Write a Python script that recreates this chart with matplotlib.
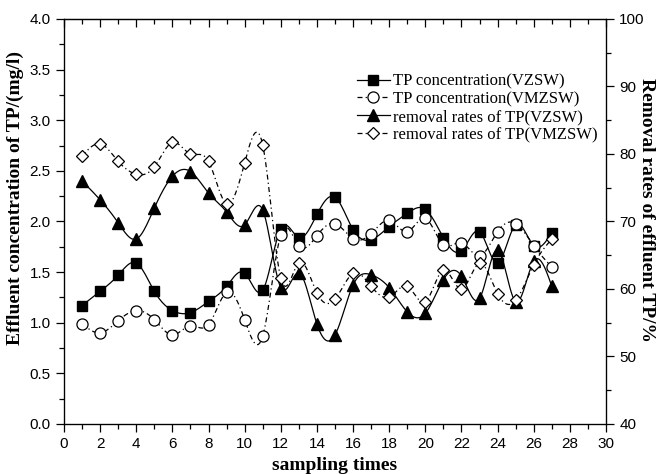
import numpy as np
import matplotlib
matplotlib.use('Agg')
import matplotlib.pyplot as plt
from matplotlib.ticker import MultipleLocator

# sampling times and readings
times = list(range(1, 28))

tp_vzsw = [1.17, 1.31, 1.47, 1.59, 1.31, 1.12, 1.10, 1.21, 1.36, 1.49,
           1.32, 1.93, 1.84, 2.07, 2.24, 1.92, 1.82, 1.95, 2.08, 2.12,
           1.84, 1.71, 1.90, 1.59, 1.97, 1.76, 1.89]
tp_vmzsw = [0.99, 0.90, 1.02, 1.12, 1.03, 0.88, 0.97, 0.98, 1.30, 1.03,
            0.87, 1.87, 1.76, 1.86, 1.98, 1.83, 1.88, 2.01, 1.90, 2.03,
            1.77, 1.79, 1.66, 1.90, 1.98, 1.76, 1.55]
rr_vzsw = [76.0, 73.2, 69.8, 67.4, 72.0, 76.7, 77.4, 74.2, 71.4, 69.5,
           71.7, 60.2, 62.4, 54.8, 53.2, 60.6, 62.1, 60.2, 56.6, 56.4,
           61.4, 61.9, 58.6, 65.8, 58.1, 64.1, 60.4]
rr_vmzsw = [79.7, 81.5, 78.9, 77.0, 78.1, 81.7, 80.0, 78.9, 72.6, 78.7,
            81.3, 61.6, 63.9, 59.4, 58.5, 62.3, 60.4, 58.8, 60.4, 58.1,
            62.8, 60.0, 63.8, 59.3, 58.3, 63.6, 67.4]

labels = ['TP concentration(VZSW)', 'TP concentration(VMZSW)',
          'removal rates of TP(VZSW)', 'removal rates of TP(VMZSW)']


def spline(x, y, n=12):
    # natural cubic spline through the points
    x = np.asarray(x, float)
    y = np.asarray(y, float)
    N = len(x)
    h = np.diff(x)
    A = np.zeros((N, N))
    b = np.zeros(N)
    A[0, 0] = 1
    A[-1, -1] = 1
    for i in range(1, N - 1):
        A[i, i - 1] = h[i - 1]
        A[i, i] = 2 * (h[i - 1] + h[i])
        A[i, i + 1] = h[i]
        b[i] = 3 * ((y[i + 1] - y[i]) / h[i] - (y[i] - y[i - 1]) / h[i - 1])
    c = np.linalg.solve(A, b)
    xs, ys = [], []
    for i in range(N - 1):
        t = np.linspace(0, h[i], n, endpoint=False)
        bb = (y[i + 1] - y[i]) / h[i] - h[i] * (2 * c[i] + c[i + 1]) / 3
        d = (c[i + 1] - c[i]) / (3 * h[i])
        xs.extend(x[i] + t)
        ys.extend(y[i] + bb * t + c[i] * t ** 2 + d * t ** 3)
    xs.append(x[-1])
    ys.append(y[-1])
    return np.array(xs), np.array(ys)


plt.rcParams['font.family'] = 'Liberation Sans'
fig = plt.figure(figsize=(6.58, 4.74), dpi=100)
ax = fig.add_axes([0.0973, 0.1055, 0.8237, 0.8545])
ax2 = ax.twinx()

dashdot = (0, (4, 2.5, 1, 2.5))
lw = 0.9
ms = 7

# lines (smoothed) and markers
sx, sy = spline(times, tp_vzsw)
ax.plot(sx, sy, color='k', lw=lw, ls='-')
ax.plot(times, tp_vzsw, ls='none', marker='s', ms=ms, mfc='k', mec='k')
sx, sy = spline(times, tp_vmzsw)
ax.plot(sx, sy, color='k', lw=lw, ls=dashdot)
ax.plot(times, tp_vmzsw, ls='none', marker='o', ms=ms + 1, mfc='white', mec='k', mew=0.9)

sx, sy = spline(times, rr_vzsw)
ax2.plot(sx, sy, color='k', lw=lw, ls='-')
ax2.plot(times, rr_vzsw, ls='none', marker='^', ms=ms + 2, mfc='k', mec='k')
sx, sy = spline(times, rr_vmzsw)
ax2.plot(sx, sy, color='k', lw=lw, ls=dashdot)
ax2.plot(times, rr_vmzsw, ls='none', marker='D', ms=ms - 0.5, mfc='white', mec='k', mew=0.9)

# legend handles
h1, = ax.plot([], [], color='k', lw=lw, ls='-', marker='s', ms=ms)
h2, = ax.plot([], [], color='k', lw=lw, ls=dashdot, marker='o', ms=ms + 1, mfc='white', mew=0.9)
h3, = ax.plot([], [], color='k', lw=lw, ls='-', marker='^', ms=ms + 2)
h4, = ax.plot([], [], color='k', lw=lw, ls=dashdot, marker='D', ms=ms - 0.5, mfc='white', mew=0.9)
ax.legend([h1, h2, h3, h4], labels, loc='upper left', bbox_to_anchor=(0.54, 0.865),
          frameon=False, prop={'family': 'Liberation Serif', 'size': 12},
          handlelength=2.0, handletextpad=0.15, labelspacing=0.1,
          borderpad=0, borderaxespad=0)

ax.set_xlim(0, 30)
ax.set_ylim(0, 4.0)
ax2.set_ylim(40, 100)
ax.xaxis.set_major_locator(MultipleLocator(2))
ax.xaxis.set_minor_locator(MultipleLocator(1))
ax.yaxis.set_major_locator(MultipleLocator(0.5))
ax.yaxis.set_minor_locator(MultipleLocator(0.25))
ax2.yaxis.set_major_locator(MultipleLocator(10))
ax2.yaxis.set_minor_locator(MultipleLocator(5))
ax.yaxis.set_major_formatter(plt.FormatStrFormatter('%.1f'))

# top ticks point inward, the rest outward
top = ax.secondary_xaxis('top')
top.xaxis.set_major_locator(MultipleLocator(2))
top.xaxis.set_minor_locator(MultipleLocator(1))
top.tick_params(which='both', direction='in', labeltop=False, width=0.9)
top.tick_params(which='major', length=6)
top.tick_params(which='minor', length=3.5)

for a in (ax, ax2):
    a.tick_params(which='both', direction='out', labelsize=11, width=0.9)
    a.tick_params(which='major', length=6)
    a.tick_params(which='minor', length=3.5)
for sp in ax.spines.values():
    sp.set_linewidth(0.9)

fig.text(335 / 658, 1 - 466 / 474, 'sampling times', family='Liberation Serif',
         weight='bold', fontsize=14, ha='center', va='center')
fig.text(15 / 658, 1 - 198 / 474, 'Effluent concentration of TP/(mg/l)', family='Liberation Serif',
         weight='bold', fontsize=14, ha='center', va='center', rotation=90)
fig.text(647 / 658, 1 - 210 / 474, 'Removal rates of effluent TP/%', family='Liberation Serif',
         weight='bold', fontsize=14, ha='center', va='center', rotation=270)

fig.savefig('out.png', dpi=100)
